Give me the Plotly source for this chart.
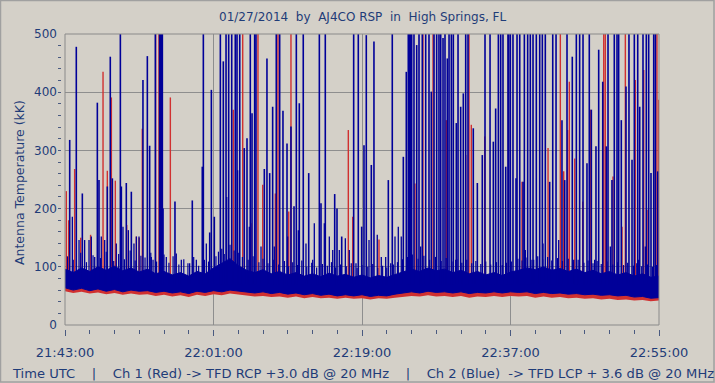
import pandas as pd
import plotly.graph_objects as go

# ---------------- data (minutes after 21:43:00 UTC, values in kK) ----------------
env_minutes = list(range(0, 73))

blue_hi = [96, 90, 98, 92, 100, 94, 101, 93, 98, 91,
           96, 88, 92, 86, 90, 84, 92, 88, 98, 106,
           114, 102, 94, 90, 95, 88, 92, 86, 90, 84,
           88, 83, 89, 84, 87, 82, 86, 81, 85, 82,
           87, 91, 96, 92, 98, 93, 96, 90, 94, 88,
           92, 86, 90, 85, 91, 94, 98, 95, 100, 94,
           97, 92, 96, 90, 94, 88, 92, 86, 90, 84,
           88, 82, 84]
blue_lo = [64, 60, 63, 59, 62, 58, 61, 57, 60, 58,
           59, 56, 58, 55, 57, 54, 58, 56, 59, 57,
           60, 58, 57, 55, 57, 54, 56, 53, 55, 52,
           54, 51, 53, 50, 52, 50, 52, 49, 51, 50,
           53, 55, 57, 55, 58, 56, 57, 55, 57, 54,
           56, 55, 57, 55, 57, 56, 57, 54, 56, 54,
           55, 53, 54, 52, 53, 51, 52, 50, 51, 48,
           49, 46, 47]
red_hi = [72, 70, 73, 69, 71, 68, 70, 67, 70, 68,
          69, 66, 68, 65, 67, 64, 68, 66, 69, 67,
          70, 68, 67, 66, 67, 65, 66, 64, 66, 63,
          65, 62, 64, 61, 63, 61, 63, 60, 62, 61,
          64, 66, 68, 66, 69, 67, 68, 66, 68, 65,
          67, 66, 68, 66, 68, 67, 68, 65, 67, 65,
          66, 64, 65, 63, 64, 62, 63, 61, 62, 59,
          60, 57, 58]
red_lo = [58, 55, 57, 54, 56, 53, 55, 52, 54, 52,
          53, 50, 52, 49, 51, 48, 52, 50, 53, 51,
          54, 52, 51, 49, 50, 48, 49, 47, 49, 46,
          48, 46, 47, 45, 47, 45, 46, 44, 46, 45,
          47, 48, 50, 49, 51, 49, 50, 48, 50, 47,
          49, 48, 50, 48, 50, 49, 50, 47, 49, 47,
          48, 46, 47, 45, 46, 44, 45, 43, 44, 42,
          43, 41, 42]

# blue (Ch 2) spikes: time (min) and peak (kK); 510 = off-scale
blue_spike_min = [0.57, 1.37, 2.10, 3.92, 4.12, 5.13, 5.49, 5.74, 6.71, 6.83, 7.43, 8.04,
                  9.45, 9.98, 10.26, 10.95, 11.47, 11.60, 11.72, 11.80, 11.88, 13.33, 15.43,
                  16.64, 16.77, 17.54, 17.74,
                  18.10, 18.83, 19.19, 19.52, 19.84, 20.21, 20.64, 20.85, 21.18, 21.73, 22.06,
                  22.46, 22.67, 22.99, 23.15, 24.16, 24.48, 24.81, 25.17, 25.61, 26.02, 26.42,
                  26.91, 27.39, 27.76, 28.04, 28.40, 28.88, 29.54, 30.83, 31.03, 31.55, 32.69,
                  32.97, 33.54, 34.99, 35.55,
                  35.96, 36.24, 36.52, 37.13, 37.45, 39.19, 39.67, 41.01, 41.37, 41.61, 41.73,
                  41.85, 42.02, 42.30, 42.63, 42.91, 43.31, 43.72, 44.12, 44.40, 44.73, 45.05,
                  45.33, 45.54, 45.82, 46.06, 46.34, 46.55, 46.83, 47.07, 47.43, 47.64, 47.96,
                  48.28, 48.57, 48.85, 49.49, 49.98, 50.58, 50.91, 51.52, 51.92, 52.20, 52.53,
                  52.81, 53.09, 53.42, 53.70,
                  53.78, 53.98, 54.30, 54.67, 54.79, 55.12, 55.52, 55.68, 56.08, 56.40, 56.73,
                  57.13, 57.54, 57.86, 58.22, 58.75, 59.12, 59.52, 60.24, 60.57, 60.85, 61.49,
                  61.98, 62.38, 62.79, 63.27, 63.55, 63.80, 64.36, 64.69, 65.18, 65.62, 65.82,
                  66.30, 66.58, 66.91, 67.11, 67.43, 68.00, 68.36, 68.73, 69.01, 69.42, 69.66,
                  70.06, 70.46, 70.75, 71.03, 71.36, 71.56, 71.85]
blue_spike_val = [318, 478, 226, 382, 249, 238, 461, 252, 510, 238, 244, 229,
                  421, 462, 308, 510, 510, 510, 510, 510, 200, 212, 214,
                  272, 510, 159, 404,
                  186, 510, 453, 510, 510, 510, 510, 510, 510, 304, 321,
                  510, 364, 510, 510, 268, 458, 261, 375, 510, 510, 368,
                  312, 341, 204, 510, 381, 510, 261, 510, 209, 510, 225,
                  200, 152, 510, 510,
                  169, 309, 498, 275, 487, 249, 510, 289, 435, 510, 510,
                  510, 510, 510, 481, 510, 510, 510, 510, 401, 510, 510,
                  510, 510, 493, 510, 458, 510, 510, 510, 347, 510, 375,
                  398, 510, 510, 338, 244, 292, 510, 510, 315, 372, 510,
                  510, 510, 272, 510,
                  510, 510, 510, 252, 510, 510, 246, 510, 510, 510, 510,
                  510, 510, 510, 510, 246, 510, 510, 352, 249, 510, 461,
                  510, 510, 510, 278, 510, 370, 307, 473, 418, 307, 510,
                  249, 510, 510, 510, 352, 410, 510, 284, 510, 510, 375,
                  510, 510, 510, 261, 510, 510, 264]

# smaller blue bursts riding on the noise band
blue_small_min = [0.89, 1.70, 2.38, 2.91, 3.19, 3.60, 4.40, 4.81, 6.22, 7.03, 7.68, 8.36,
                  8.65, 8.97, 10.46, 10.67, 12.28, 13.49, 14.10, 15.11, 15.92, 17.13,
                  19.60, 20.93, 22.34, 23.76, 25.37, 26.99, 28.28, 29.21, 30.02, 30.22,
                  31.43, 32.04, 32.45, 33.25, 33.98, 34.46, 35.27,
                  36.85, 37.85, 38.34, 38.87, 39.48, 40.00, 40.40, 40.76, 43.11, 47.36,
                  55.80, 56.81, 57.94, 59.84, 61.66, 64.20, 66.10, 69.54, 70.34]
blue_small_val = [186, 146, 146, 146, 152, 117, 152, 146, 140, 169, 163, 140,
                  152, 152, 117, 112, 117, 123, 112, 106, 112, 140,
                  220, 266, 169, 135, 135, 152, 163, 140, 112, 175,
                  175, 152, 129, 129, 149, 129, 106,
                  146, 155, 117, 117, 106, 152, 169, 152, 135, 112,
                  129, 112, 140, 146, 112, 112, 135, 112, 135]

# fine "grass" on top of the blue noise band
blue_grass_min = [0.3, 1.0, 1.9, 2.6, 3.4, 4.3, 5.0, 5.9, 6.5, 7.2, 7.9, 8.5, 9.2, 9.7,
                  10.4, 11.1, 12.0, 12.6, 13.1, 13.8, 14.4, 14.9, 15.6, 16.2, 16.9, 17.4,
                  18.3, 18.6, 19.0, 19.3, 20.0, 20.5, 21.0, 21.5, 22.2, 22.8, 23.5, 24.0,
                  24.6, 25.3, 25.9, 26.6, 27.1, 27.6, 28.2, 28.7, 29.3, 29.9, 30.5, 31.2,
                  31.8, 32.3, 32.8, 33.4, 34.1, 34.7, 35.4, 36.0, 36.7, 37.3, 37.9, 38.5,
                  39.0, 39.8, 40.3, 40.9, 41.5, 42.1, 42.8, 43.5, 44.2, 44.9, 45.6, 46.2,
                  46.9, 47.5, 48.1, 48.7, 49.3, 49.8, 50.4, 51.0, 51.6, 52.3, 53.0, 53.5,
                  54.1, 54.9, 55.4, 56.0, 56.6, 57.3, 57.9, 58.5, 59.0, 59.7, 60.3, 61.0,
                  61.6, 62.2, 62.9, 63.4, 64.0, 64.5, 65.0, 65.7, 66.4, 67.0, 67.7, 68.2,
                  68.9, 69.3, 69.9, 70.6, 71.2, 71.7]
blue_grass_val = [118, 112, 124, 108, 120, 115, 126, 110, 122, 113, 128, 111, 119, 116,
                  124, 109, 121, 107, 118, 104, 113, 106, 117, 102, 112, 109,
                  118, 126, 131, 122, 138, 128, 124, 117, 112, 118, 108, 114,
                  106, 112, 104, 110, 101, 108, 103, 111, 100, 107, 99, 105,
                  102, 108, 99, 104, 101, 106, 98, 103, 100, 105, 98, 102,
                  99, 104, 108, 113, 117, 121, 114, 119, 112, 117, 110, 115,
                  109, 113, 107, 112, 106, 110, 105, 109, 104, 108, 103, 107,
                  109, 114, 111, 116, 112, 118, 113, 117, 111, 115, 110, 114,
                  108, 112, 107, 111, 106, 110, 105, 109, 104, 108, 103, 107,
                  102, 106, 101, 104, 100, 103]

# red (Ch 1) spikes
red_spike_min = [0.16, 0.44, 1.17, 4.61, 5.13, 5.62, 6.10, 9.37, 10.99, 11.39, 12.77,
                 1.90, 3.10, 8.65, 9.00, 7.48,
                 20.40, 21.54, 22.55, 23.39, 23.96, 25.49, 25.70, 25.94, 27.12, 27.39,
                 34.34, 34.87,
                 38.06, 42.42, 43.39, 44.61, 46.22, 48.57, 48.97, 49.25, 50.87,
                 53.74, 55.39, 58.55, 60.04, 60.45, 60.93, 61.13, 61.78, 62.75, 63.67,
                 65.30, 65.49, 66.42, 67.52, 67.92, 69.13, 70.15, 70.55, 71.56, 71.75, 71.97]
red_spike_val = [230, 180, 268, 435, 265, 391, 248, 337, 510, 510, 391,
                 150, 155, 152, 150, 172,
                 370, 510, 175, 510, 241, 226, 510, 510, 195, 510,
                 335, 186,
                 147, 243, 510, 510, 352, 292, 510, 344, 324,
                 510, 246, 304, 510, 264, 335, 418, 286, 212, 370,
                 510, 510, 255, 169, 510, 421, 438, 198, 301, 510, 387]

x_tick_labels = ["21:43:00", "22:01:00", "22:19:00", "22:37:00", "22:55:00"]
y_tick_values = [0, 100, 200, 300, 400, 500]

start = pd.Timestamp("2014-01-27 21:43:00")
end = pd.Timestamp("2014-01-27 22:55:00")


def to_time(mins):
    return list(start + pd.to_timedelta(pd.Series(mins, dtype=float), unit="m"))


def spike_xy(mins, vals, base):
    xs, ys = [], []
    for t, v in zip(to_time(mins), vals):
        xs += [t, t, None]
        ys += [base, v, None]
    return xs, ys


BLUE = "#000099"
RED = "#D03030"
BG = "#D4D0C8"
TXT = "#1F3C78"
GRID = "#8E8E8E"

env_t = to_time(env_minutes)
fig = go.Figure()

# Ch 1 (red) noise band + spikes
fig.add_trace(go.Scatter(x=env_t, y=red_lo, mode="lines", line=dict(width=0, color=RED),
                         showlegend=False, hoverinfo="skip"))
fig.add_trace(go.Scatter(x=env_t, y=red_hi, mode="lines", line=dict(width=1, color=RED),
                         fill="tonexty", fillcolor=RED, showlegend=False, hoverinfo="skip"))
rx, ry = spike_xy(red_spike_min, red_spike_val, 60)
fig.add_trace(go.Scatter(x=rx, y=ry, mode="lines", line=dict(width=1.4, color=RED),
                         showlegend=False, hoverinfo="skip"))

# Ch 2 (blue) noise band + spikes
fig.add_trace(go.Scatter(x=env_t, y=blue_lo, mode="lines", line=dict(width=1, color=BLUE),
                         showlegend=False, hoverinfo="skip"))
fig.add_trace(go.Scatter(x=env_t, y=blue_hi, mode="lines", line=dict(width=1, color=BLUE),
                         fill="tonexty", fillcolor=BLUE, showlegend=False, hoverinfo="skip"))
gx, gy = spike_xy(blue_grass_min, blue_grass_val, 70)
fig.add_trace(go.Scatter(x=gx, y=gy, mode="lines", line=dict(width=1.2, color=BLUE),
                         showlegend=False, hoverinfo="skip"))
sx, sy = spike_xy(blue_small_min, blue_small_val, 70)
fig.add_trace(go.Scatter(x=sx, y=sy, mode="lines", line=dict(width=1.3, color=BLUE),
                         showlegend=False, hoverinfo="skip"))
bx, by = spike_xy(blue_spike_min, blue_spike_val, 70)
fig.add_trace(go.Scatter(x=bx, y=by, mode="lines", line=dict(width=1.6, color=BLUE),
                         showlegend=False, hoverinfo="skip"))

L, R, T, B = 57, 56, 34, 54
W, H = 715, 383
pw, ph = W - L - R, H - T - B
xd0 = (65 - L) / pw
yd0 = (329 - 325) / ph

tickvals = [start + pd.Timedelta(minutes=18 * i) for i in range(5)]
SP4 = "\u00a0" * 4

fig.update_layout(
    width=W, height=H,
    margin=dict(l=L, r=R, t=T, b=B),
    paper_bgcolor=BG, plot_bgcolor=BG,
    font=dict(family="DejaVu Sans", color=TXT, size=12),
    xaxis=dict(
        domain=[xd0, 1], anchor="free", position=0,
        range=[start, end], type="date",
        tickmode="array", tickvals=tickvals, ticktext=x_tick_labels,
        ticks="outside", ticklen=6, tickwidth=1, tickcolor="#4A5A80",
        minor=dict(dtick=180000, tick0=start, ticks="outside", ticklen=4,
                   tickcolor="#4A5A80", showgrid=False),
        showgrid=True, gridcolor=GRID, gridwidth=1,
        showline=False, zeroline=False,
        tickfont=dict(size=13, color=TXT, family="DejaVu Sans"),
        ticklabelstandoff=5,
    ),
    yaxis=dict(
        domain=[yd0, 1], anchor="free", position=0,
        range=[0, 500], tickmode="array", tickvals=y_tick_values,
        ticks="inside", ticklen=3, tickwidth=1, tickcolor="#4A5A80",
        minor=dict(dtick=20, ticks="inside", ticklen=3, tickcolor="#4A5A80", showgrid=False),
        showgrid=True, gridcolor=GRID, gridwidth=1,
        showline=False, zeroline=False,
        tickfont=dict(size=12, color=TXT, family="DejaVu Sans"),
    ),
    shapes=[
        dict(type="rect", xref="x domain", yref="y domain", x0=0, x1=1, y0=0, y1=1,
             line=dict(color="#8A8A8A", width=1), layer="above"),
        dict(type="rect", xref="paper", yref="paper",
             x0=-L / pw + 0.5 / pw, x1=1 + (R - 1) / pw,
             y0=-B / ph + 1 / ph, y1=1 + (T - 0.5) / ph,
             line=dict(color="#A0A0A0", width=1.5), layer="above"),
    ],
    annotations=[
        dict(text="01/27/2014\u00a0\u00a0by\u00a0\u00a0AJ4CO RSP\u00a0\u00a0in\u00a0\u00a0High Springs, FL",
             xref="paper", yref="paper", x=(362 - L) / pw, y=(329 - 17) / ph,
             xanchor="center", yanchor="middle", showarrow=False,
             font=dict(size=12, color=TXT, family="DejaVu Sans")),
        dict(text="Antenna Temperature (kK)", textangle=-90,
             xref="paper", yref="paper", x=(19 - L) / pw, y=(329 - 183) / ph,
             xanchor="center", yanchor="middle", showarrow=False,
             font=dict(size=12.5, color=TXT, family="DejaVu Sans")),
        dict(text="Time UTC" + SP4 + "|" + SP4 + "Ch 1 (Red) -> TFD RCP +3.0 dB @ 20 MHz"
                  + SP4 + "|" + SP4 + "Ch 2 (Blue)\u00a0\u00a0-> TFD LCP + 3.6 dB @ 20 MHz",
             xref="paper", yref="paper", x=(10 - L) / pw, y=(329 - 373) / ph,
             xanchor="left", yanchor="middle", showarrow=False,
             font=dict(size=13.1, color=TXT, family="DejaVu Sans")),
    ],
)

fig.write_html("out.html", config={"displayModeBar": False},
               post_script="document.body.style.margin='0';document.body.style.overflow='hidden';")
